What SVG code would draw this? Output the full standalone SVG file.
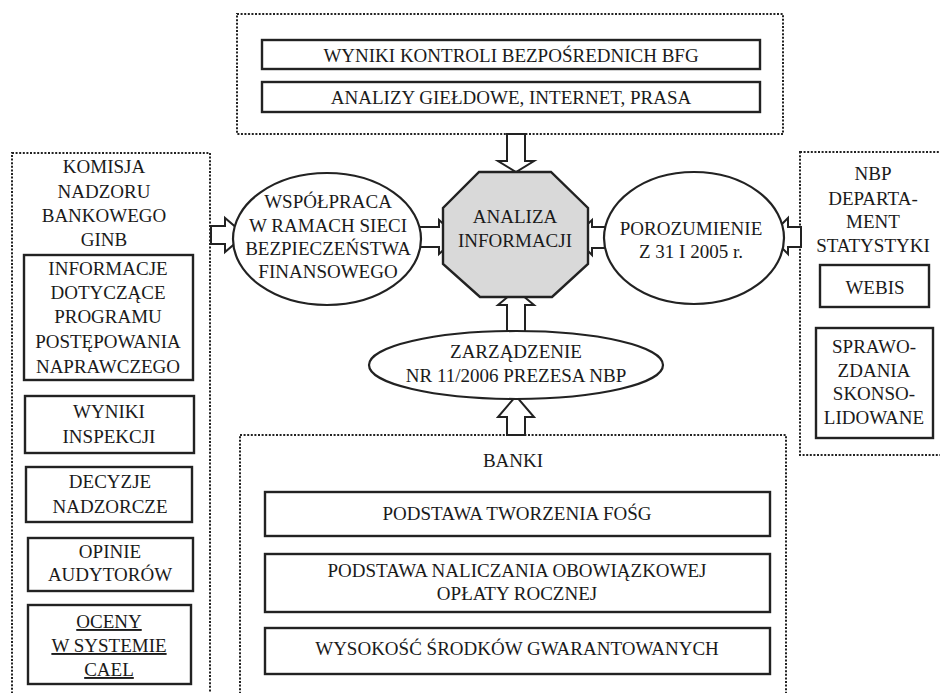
<svg xmlns="http://www.w3.org/2000/svg" width="940" height="693" viewBox="0 0 940 693" font-family="Liberation Serif, serif">
<style>
text{font-family:Liberation Serif, serif;font-size:19px;fill:#1a1a1a;text-anchor:middle}
.dot{fill:none;stroke:#222;stroke-width:2;stroke-dasharray:2 1.6}
.box{fill:#fff;stroke:#222;stroke-width:2.4}
.arr{fill:#fff;stroke:#222;stroke-width:2;stroke-linejoin:miter}
.ell{fill:#fff;stroke:#222;stroke-width:2.2}
.oct{fill:#d9d9d9;stroke:#222;stroke-width:2.4}
</style>
<rect width="940" height="693" fill="#fff"/>

<g id="top-group">
<rect class="dot" x="237" y="14" width="546" height="120"/>
<rect class="box" x="262" y="40" width="498" height="29"/>
<text x="511" y="62">WYNIKI KONTROLI BEZPOŚREDNICH BFG</text>
<rect class="box" x="262" y="82" width="498" height="30"/>
<text x="511" y="104">ANALIZY GIEŁDOWE, INTERNET, PRASA</text>
</g>

<g id="knb-group">
<rect class="dot" x="12" y="153" width="198" height="560"/>
<text x="104" y="173">KOMISJA</text>
<text x="104" y="198">NADZORU</text>
<text x="104" y="222">BANKOWEGO</text>
<text x="104" y="246">GINB</text>
<rect class="box" x="24" y="255" width="169" height="125"/>
<text x="108" y="275">INFORMACJE</text>
<text x="108" y="299">DOTYCZĄCE</text>
<text x="108" y="323">PROGRAMU</text>
<text x="108" y="348">POSTĘPOWANIA</text>
<text x="108" y="373">NAPRAWCZEGO</text>
<rect class="box" x="25" y="396" width="169" height="57"/>
<text x="109" y="418">WYNIKI</text>
<text x="109" y="443">INSPEKCJI</text>
<rect class="box" x="26" y="467" width="166" height="55"/>
<text x="110" y="488">DECYZJE</text>
<text x="110" y="513">NADZORCZE</text>
<rect class="box" x="28" y="538" width="165" height="53"/>
<text x="110" y="558">OPINIE</text>
<text x="110" y="581">AUDYTORÓW</text>
<rect class="box" x="28" y="605" width="163" height="79"/>
<text x="109" y="628" text-decoration="underline">OCENY</text>
<text x="109" y="652" text-decoration="underline">W SYSTEMIE</text>
<text x="109" y="676" text-decoration="underline">CAEL</text>
</g>

<g id="nbp-group">
<rect class="dot" x="800" y="152" width="200" height="303"/>
<text x="873" y="180">NBP</text>
<text x="873" y="205">DEPARTA-</text>
<text x="873" y="228">MENT</text>
<text x="873" y="252">STATYSTYKI</text>
<rect class="box" x="820" y="265" width="109" height="42"/>
<text x="875" y="294">WEBIS</text>
<rect class="box" x="816" y="328" width="117" height="110"/>
<text x="874" y="353">SPRAWO-</text>
<text x="874" y="377">ZDANIA</text>
<text x="874" y="400">SKONSO-</text>
<text x="874" y="424">LIDOWANE</text>
</g>

<g id="banki-group">
<rect class="dot" x="240" y="435" width="546" height="280"/>
<text x="513" y="467">BANKI</text>
<rect class="box" x="265" y="492" width="505" height="44"/>
<text x="517" y="520">PODSTAWA TWORZENIA FOŚG</text>
<rect class="box" x="265" y="554" width="505" height="58"/>
<text x="517" y="577">PODSTAWA NALICZANIA OBOWIĄZKOWEJ</text>
<text x="517" y="600">OPŁATY ROCZNEJ</text>
<rect class="box" x="265" y="628" width="505" height="46"/>
<text x="517" y="655">WYSOKOŚĆ ŚRODKÓW GWARANTOWANYCH</text>
</g>

<g id="connectors">
<polygon class="arr" points="211,226 225,226 225,218 245,235 225,252 225,244 211,244"/>
<polygon class="arr" points="418,227 439,227 439,220 458,237 439,254 439,247 418,247"/>
<polygon class="arr" points="608,227 592,227 592,220 574,237 592,255 592,248 608,248"/>
<polygon class="arr" points="801,227 788,227 788,218 770,236 788,254 788,247 801,247"/>
<polygon class="arr" points="507,134 525,134 525,161 534,161 516,172 498,161 507,161"/>
<polygon class="arr" points="507,334 525,334 525,305 534,305 516,290 498,305 507,305"/>
<polygon class="arr" points="507,435 525,435 525,417 534,417 516,396 498,417 507,417"/>
</g>

<g id="wspolpraca">
<ellipse class="ell" cx="327" cy="239" rx="94" ry="66"/>
<text x="328" y="208">WSPÓŁPRACA</text>
<text x="328" y="232">W RAMACH SIECI</text>
<text x="328" y="255">BEZPIECZEŃSTWA</text>
<text x="328" y="278">FINANSOWEGO</text>
</g>

<g id="analiza">
<polygon class="oct" points="479,172 551,172 588,208 588,264 552,297 480,297 443,264 443,208"/>
<text x="515" y="223">ANALIZA</text>
<text x="515" y="247">INFORMACJI</text>
</g>

<g id="porozumienie">
<ellipse class="ell" cx="694" cy="238" rx="90" ry="66"/>
<text x="691" y="235">POROZUMIENIE</text>
<text x="691" y="258">Z 31 I 2005 r.</text>
</g>

<g id="zarzadzenie">
<ellipse class="ell" cx="516" cy="365" rx="147" ry="34"/>
<text x="516" y="358">ZARZĄDZENIE</text>
<text x="516" y="382">NR 11/2006 PREZESA NBP</text>
</g>
</svg>
